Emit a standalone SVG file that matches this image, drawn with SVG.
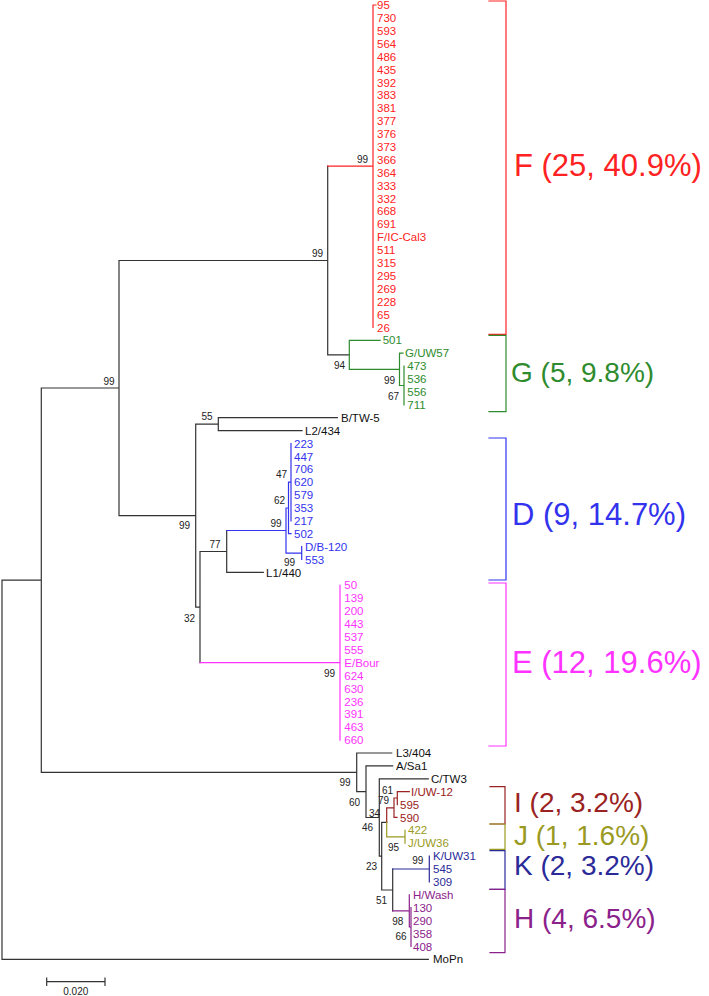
<svg xmlns="http://www.w3.org/2000/svg" width="709" height="996" viewBox="0 0 709 996">
<style>
text{font-family:"Liberation Sans",Arial,sans-serif}
.lf{font-size:11.5px}
.bs{font-size:10px;fill:#222;text-anchor:end}
.gl{font-size:28px}
.gb{font-size:31px}
.e{fill:none;stroke-width:1.2;stroke-linecap:square}
.k{stroke:#333}
.cF{stroke:#f22}.tF{fill:#f22}
.cG{stroke:#2e8b2e}.tG{fill:#2e8b2e}
.cD{stroke:#3333ee}.tD{fill:#3333ee}
.cE{stroke:#ff33ff}.tE{fill:#ff33ff}
.cI{stroke:#9a2222}.tI{fill:#9a2222}
.cJ{stroke:#9a9a22}.tJ{fill:#9a9a22}
.cK{stroke:#2a2a99}.tK{fill:#2a2a99}
.cH{stroke:#8b228b}.tH{fill:#8b228b}
.tk{fill:#111}
</style>
<rect width="709" height="996" fill="#fff"/>
<g id="connectors">
<path class="e k" d="M2,580.2V959.3H428.3M2,580.2H41.3M41.3,388V772.4M41.3,388H119M41.3,772.4H356.7M119,260.5V515.6M119,260.5H327.7M119,515.6H195.7M327.7,166.2V354.8M327.7,354.8H349.3M195.7,424.2V607.1M195.7,424.2H218.3M195.7,607.1H200M218.3,417.7V430.6M218.3,417.7H337.3M218.3,430.6H302M200,551.5V662.7M200,551.5H226.7M226.7,530.5V572.4M226.7,572.4H263.3M356.7,753V791.7M356.7,753H391.7M356.7,791.7H366M366,765.9V817.5M366,765.9H392.7M366,817.5H379.3M379.3,778.8V856.2M379.3,778.8H428.3M379.3,856.2H381.7M381.7,822.3V890M381.7,822.3H386.7M381.7,890H392.7M392.7,869V910.9"/>
<path class="e cF" d="M327.7,166.2H373M373,5V327.4M373,5H376"/>
<path class="e cG" d="M349.3,340.3V369.3M349.3,340.3H380M349.3,369.3H399.5M399.5,353.2V385.5M399.5,353.2H403M399.5,385.5H404M404,366.1V404.8"/>
<path class="e cD" d="M226.7,530.5H286M286,508V553.1M286,508H288.5M288.5,482.2V533.7M288.5,482.2H291M288.5,533.7H291M291,443.5V520.8M286,553.1H301.7M301.7,546.6V559.5"/>
<path class="e cE" d="M200,662.7H340M340,585.3V740.1"/>
<path class="e cI" d="M386.7,807.9V822.3M386.7,807.9H394M394,798V817.4M394,817.4H397M394,798H397.3M397.3,791.7V804.6M397.3,791.7H409.3"/>
<path class="e cJ" d="M386.7,822.3V836.8M386.7,836.8H405M405,830.3V843.2"/>
<path class="e cK" d="M392.7,869H429.3M429.3,856.1V881.9"/>
<path class="e cH" d="M392.7,910.9H409.3M409.3,894.8V927M409.3,927H411M411,907.7V946.4"/>
</g>
<g id="cladeF" class="lf tF">
<text x="377" y="9.1">95</text><text x="377" y="22">730</text><text x="377" y="34.9">593</text><text x="377" y="47.8">564</text><text x="377" y="60.7">486</text><text x="377" y="73.6">435</text><text x="377" y="86.5">392</text><text x="377" y="99.4">383</text><text x="377" y="112.3">381</text><text x="377" y="125.2">377</text><text x="377" y="138.1">376</text><text x="377" y="151">373</text><text x="377" y="163.9">366</text><text x="377" y="176.7">364</text><text x="377" y="189.6">333</text><text x="377" y="202.5">332</text><text x="377" y="215.4">668</text><text x="377" y="228.3">691</text><text x="377" y="241.2">F/IC-Cal3</text><text x="377" y="254.1">511</text><text x="377" y="267">315</text><text x="377" y="279.9">295</text><text x="377" y="292.8">269</text><text x="377" y="305.7">228</text><text x="377" y="318.6">65</text><text x="377" y="331.5">26</text>
</g>
<g id="cladeG" class="lf tG">
<text x="382.7" y="344.4">501</text><text x="405" y="357.3">G/UW57</text><text x="407.3" y="370.2">473</text><text x="407.3" y="383.1">536</text><text x="407.3" y="396">556</text><text x="407.3" y="408.9">711</text>
</g>
<g id="leafB" class="lf tk"><text x="341" y="421.8">B/TW-5</text></g>
<g id="leafL2" class="lf tk"><text x="305" y="434.7">L2/434</text></g>
<g id="cladeD" class="lf tD">
<text x="294" y="447.6">223</text><text x="294" y="460.5">447</text><text x="294" y="473.4">706</text><text x="294" y="486.3">620</text><text x="294" y="499.2">579</text><text x="294" y="512.1">353</text><text x="294" y="524.9">217</text><text x="294" y="537.8">502</text><text x="305" y="550.7">D/B-120</text><text x="305" y="563.6">553</text>
</g>
<g id="leafL1" class="lf tk"><text x="266" y="576.5">L1/440</text></g>
<g id="cladeE" class="lf tE">
<text x="344.3" y="589.4">50</text><text x="344.3" y="602.3">139</text><text x="344.3" y="615.2">200</text><text x="344.3" y="628.1">443</text><text x="344.3" y="641">537</text><text x="344.3" y="653.9">555</text><text x="344.3" y="666.8">E/Bour</text><text x="344.3" y="679.7">624</text><text x="344.3" y="692.6">630</text><text x="344.3" y="705.5">236</text><text x="344.3" y="718.4">391</text><text x="344.3" y="731.3">463</text><text x="344.3" y="744.2">660</text>
</g>
<g id="leafL3" class="lf tk"><text x="396" y="757.1">L3/404</text></g>
<g id="leafA" class="lf tk"><text x="396" y="770">A/Sa1</text></g>
<g id="leafC" class="lf tk"><text x="431" y="782.9">C/TW3</text></g>
<g id="cladeI" class="lf tI"><text x="411" y="795.8">I/UW-12</text><text x="400" y="808.7">595</text><text x="400" y="821.5">590</text></g>
<g id="cladeJ" class="lf tJ"><text x="408" y="834.4">422</text><text x="408" y="847.3">J/UW36</text></g>
<g id="cladeK" class="lf tK"><text x="433" y="860.2">K/UW31</text><text x="433" y="873.1">545</text><text x="433" y="886">309</text></g>
<g id="cladeH" class="lf tH"><text x="413" y="898.9">H/Wash</text><text x="413" y="911.8">130</text><text x="413" y="924.7">290</text><text x="413" y="937.6">358</text><text x="413" y="950.5">408</text></g>
<g id="leafMoPn" class="lf tk"><text x="433" y="963.4">MoPn</text></g>
<g id="bootstrap" class="bs">
<text x="368" y="162.6">99</text><text x="323" y="256.6">99</text><text x="114.5" y="384.6">99</text><text x="345" y="369.3">94</text><text x="395" y="384.3">99</text><text x="399" y="400.3">67</text><text x="212.7" y="420.3">55</text><text x="190" y="528.6">99</text><text x="287" y="477.6">47</text><text x="285" y="503.6">62</text><text x="281.7" y="526.9">99</text><text x="220.7" y="548.3">77</text><text x="295" y="565.6">99</text><text x="195" y="621.6">32</text><text x="335" y="676.9">99</text><text x="350.7" y="786.3">99</text><text x="360" y="805.9">60</text><text x="393" y="794.3">61</text><text x="389" y="803.6">79</text><text x="380" y="816.9">34</text><text x="373" y="831.3">46</text><text x="399" y="850.9">95</text><text x="377" y="870.3">23</text><text x="423.3" y="864.3">99</text><text x="387" y="904.3">51</text><text x="403.3" y="925.3">98</text><text x="406.7" y="940.3">66</text>
</g>
<g id="groupF"><path class="e cF" d="M489,1H506V334.3H489"/><text class="gb tF" x="514" y="176">F (25, 40.9%)</text></g>
<g id="groupG"><path class="e cG" d="M489,335.3H506V411.7H489"/><text class="gl tG" x="511" y="382">G (5, 9.8%)</text></g>
<g id="groupD"><path class="e cD" d="M489,438H506V580H489"/><text class="gb tD" x="512" y="524.5">D (9, 14.7%)</text></g>
<g id="groupE"><path class="e cE" d="M489,583H506V746H489"/><text class="gb tE" x="512" y="672.5">E (12, 19.6%)</text></g>
<g id="groupI"><path class="e cI" d="M490,786.7H505V824H490"/><text class="gl tI" x="514" y="811.7">I (2, 3.2%)</text></g>
<g id="groupJ"><path class="e cJ" d="M490,824H505V849.3H490"/><text class="gl tJ" x="514" y="845">J (1, 1.6%)</text></g>
<g id="groupK"><path class="e cK" d="M490,850.7H505V889.3H490"/><text class="gl tK" x="514" y="875">K (2, 3.2%)</text></g>
<g id="groupH"><path class="e cH" d="M490,889.3H505V952.7H490"/><text class="gl tH" x="514" y="928.3">H (4, 6.5%)</text></g>
<g id="scalebar"><path class="e k" d="M46.7,981.7H105M46.7,978V985.5M105,978V985.5"/><text x="75.8" y="995" font-size="10" text-anchor="middle" fill="#222">0.020</text></g>
</svg>
